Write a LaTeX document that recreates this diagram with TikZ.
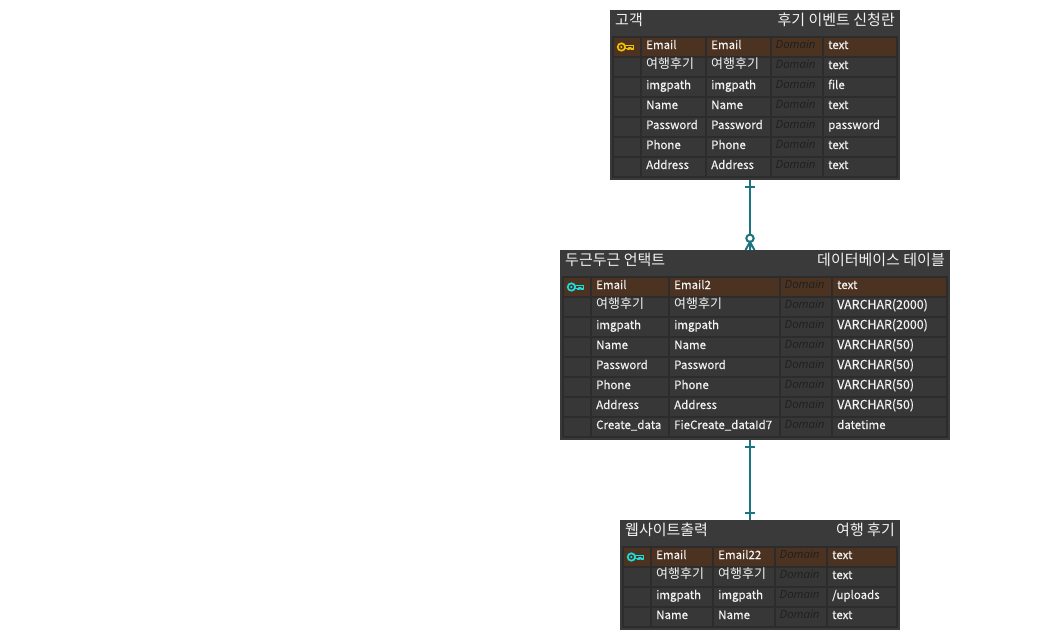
\documentclass[tikz,border=0pt]{standalone}
\usepackage{fontspec}
\setmainfont[FakeBold=0.25]{Noto Sans CJK KR}
\newfontfamily\plainfont{Noto Sans CJK KR}
\newfontfamily\domfont{Open Sans}
\definecolor{panelc}{HTML}{3A3A3A}
\definecolor{gridc}{HTML}{2C2C2C}
\definecolor{cellc}{HTML}{373737}
\definecolor{keyrow}{HTML}{4C3220}
\definecolor{txtc}{HTML}{F2F2F2}
\definecolor{domc}{HTML}{1F1F1F}
\definecolor{linkc}{HTML}{1B7480}
\definecolor{goldkey}{HTML}{F2C200}
\definecolor{cyankey}{HTML}{19E0E0}
\tikzset{
  panel/.style={fill=panelc,draw=none,inner sep=0pt,outer sep=0pt,anchor=north west},
  titletext/.style={text=txtc,font=\plainfont\fontsize{15}{15}\selectfont,inner sep=0pt},
  celltext/.style={text=txtc,font=\fontsize{11.5}{12}\selectfont,inner sep=0pt,anchor=base west},
  domtext/.style={text=domc,font=\domfont\itshape\fontsize{11.4}{12}\selectfont,inner sep=0pt,anchor=base west},
  link/.style={draw=linkc,line width=2pt},
  linkthin/.style={draw=linkc,line width=2pt},
}
\newcommand{\hg}[1]{\raisebox{0.3pt}{\plainfont\fontsize{13}{13}\selectfont #1}}
\newcommand{\vc}[1]{{\fontsize{12.4}{12}\selectfont #1}}
\newcommand{\ercols}[6]{\def\xa{#1}\def\xb{#2}\def\xc{#3}\def\xd{#4}\def\xe{#5}\def\xf{#6}}
\newcommand{\errow}[7]{%
  \pgfmathsetmacro{\ybot}{#1+18}%
  \fill[#2] (\xa,#1) rectangle (\xa+26,\ybot);
  \fill[#2] (\xa+28,#1) rectangle (\xb,\ybot);
  \fill[#2] (\xb+2,#1) rectangle (\xc,\ybot);
  \fill[#2] (\xc+2,#1) rectangle (\xd,\ybot);
  \fill[#2] (\xd+2,#1) rectangle (\xe,\ybot);
  \pgfmathsetmacro{\ybase}{#1+11}%
  \node[celltext] (c1-#1-\xa) at (\xa+32,\ybase) {#3};
  \node[celltext] (c2-#1-\xa) at (\xb+6,\ybase) {#4};
  \node[domtext]  (c3-#1-\xa) at (\xc+5.5,\ybase-0.7) {#5};
  \node[celltext] (c4-#1-\xa) at (\xd+6,\ybase) {#6};
}
\newcommand{\erkey}[3]{%
  \begin{scope}[shift={(#1,#2)}]
    \draw[#3,line width=1.7pt] (4.4,0) circle (3.7);
    \fill[#3] (4.4,0) circle (1.2);
    \draw[#3,line width=1.7pt,line join=round] (8.1,-1.4) -- (16.6,-1.4) -- (16.6,2) -- (14,2) -- (14,0.8) -- (12.2,0.8) -- (12.2,2.4) -- (10.5,2.4) -- (10.5,1.4) -- (8.1,1.4);
  \end{scope}}
\begin{document}
\begin{tikzpicture}[x=1pt,y=-1pt]
\useasboundingbox (0,0) rectangle (1050,632);
% ---- table 1
\node[panel,minimum width=290pt,minimum height=170pt] (t1) at (610,10) {};
\fill[gridc] (612,36) rectangle (898,178);
\node[titletext,anchor=base west] (t1l) at (615,25.3) {고객};
\node[titletext,anchor=base east] (t1r) at (895,25.3) {후기 이벤트 신청란};
\ercols{614}{705}{770}{822}{896}{0}
\errow{38}{keyrow}{Email}{Email}{Domain}{text}{}
\errow{58}{cellc}{\hg{여행후기}}{\hg{여행후기}}{Domain}{text}{}
\errow{78}{cellc}{imgpath}{imgpath}{Domain}{file}{}
\errow{98}{cellc}{Name}{Name}{Domain}{text}{}
\errow{118}{cellc}{Password}{Password}{Domain}{password}{}
\errow{138}{cellc}{Phone}{Phone}{Domain}{text}{}
\errow{158}{cellc}{Address}{Address}{Domain}{text}{}
\erkey{617}{47}{goldkey}
% ---- table 2
\node[panel,minimum width=390pt,minimum height=190pt] (t2) at (560,250) {};
\fill[gridc] (562,276) rectangle (948,438);
\node[titletext,anchor=base west] (t2l) at (565,265.3) {두근두근 언택트};
\node[titletext,anchor=base east] (t2r) at (945,265.3) {데이터베이스 테이블};
\ercols{564}{668}{779}{831}{946}{0}
\errow{278}{keyrow}{Email}{Email2}{Domain}{text}{}
\errow{298}{cellc}{\hg{여행후기}}{\hg{여행후기}}{Domain}{\vc{VARCHAR(2000)}}{}
\errow{318}{cellc}{imgpath}{imgpath}{Domain}{\vc{VARCHAR(2000)}}{}
\errow{338}{cellc}{Name}{Name}{Domain}{\vc{VARCHAR(50)}}{}
\errow{358}{cellc}{Password}{Password}{Domain}{\vc{VARCHAR(50)}}{}
\errow{378}{cellc}{Phone}{Phone}{Domain}{\vc{VARCHAR(50)}}{}
\errow{398}{cellc}{Address}{Address}{Domain}{\vc{VARCHAR(50)}}{}
\errow{418}{cellc}{Create\_data}{FieCreate\_dataId7}{Domain}{datetime}{}
\erkey{567}{287}{cyankey}
% ---- table 3
\node[panel,minimum width=280pt,minimum height=110pt] (t3) at (620,520) {};
\fill[gridc] (622,546) rectangle (898,628);
\node[titletext,anchor=base west] (t3l) at (625,535.3) {웹사이트출력};
\node[titletext,anchor=base east] (t3r) at (895,535.3) {여행 후기};
\ercols{624}{712}{774}{826}{896}{0}
\errow{548}{keyrow}{Email}{Email22}{Domain}{text}{}
\errow{568}{cellc}{\hg{여행후기}}{\hg{여행후기}}{Domain}{text}{}
\errow{588}{cellc}{imgpath}{imgpath}{Domain}{/uploads}{}
\errow{608}{cellc}{Name}{Name}{Domain}{text}{}
\erkey{627}{557}{cyankey}
% ---- connectors
\coordinate (p1) at (t1.south -| 750,0);
\coordinate (p2) at (t2.north -| 750,0);
\coordinate (p3) at (t2.south -| 750,0);
\coordinate (p4) at (t3.north -| 750,0);
\draw[link] (p1) -- (750,234);
\draw[linkthin] (745,186.7) -- (755,186.7);
\draw[linkthin,fill=white] (750,238.3) circle (3.7);
\draw[linkthin] (745.5,250) -- (750,242) -- (754.5,250) (750,242) -- (p2);
\draw[link] (p3) -- (p4);
\draw[linkthin] (745,446.7) -- (755,446.7);
\draw[linkthin] (745,513) -- (755,513);
\end{tikzpicture}
\end{document}
